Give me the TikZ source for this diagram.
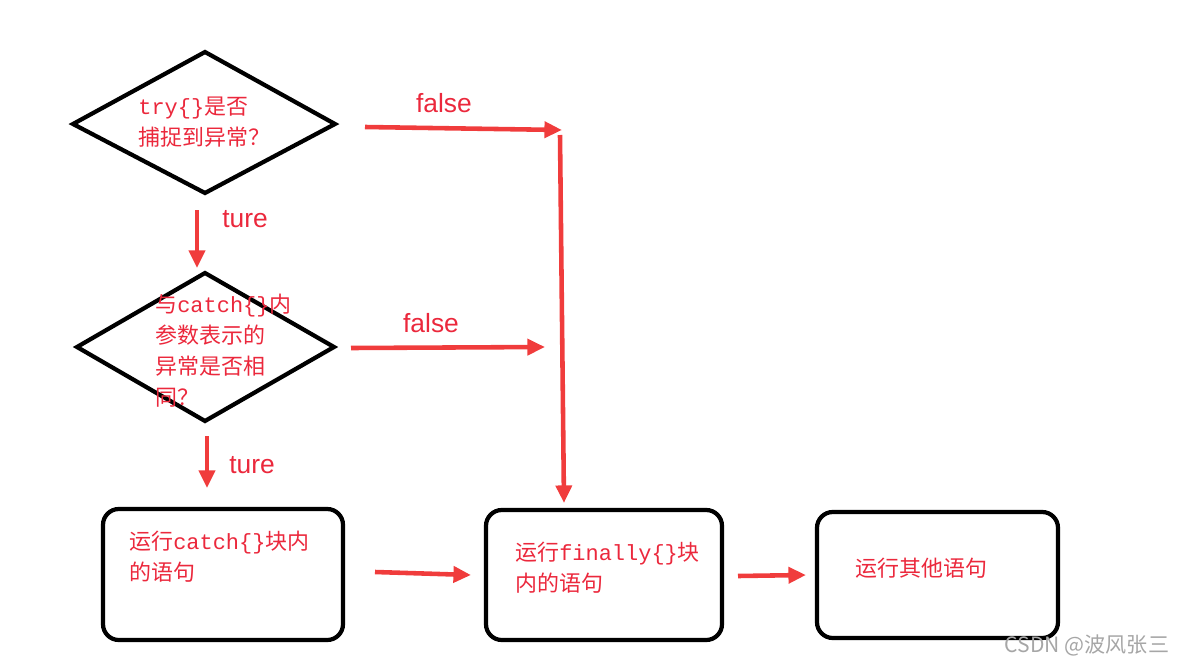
\documentclass[tikz,border=0pt]{standalone}
\usepackage{fontspec}
\newfontfamily\cjk{Noto Sans CJK SC}
\newfontfamily\lat{Liberation Mono}
\setsansfont{Liberation Sans}
\usetikzlibrary{arrows.meta}
\definecolor{arrred}{RGB}{240,60,60}
\definecolor{txtred}{RGB}{235,40,60}
\tikzset{
	flow/.style={draw=arrred, line width=2.6pt, -{Triangle[length=10pt,width=9pt]}},
	lbl/.style={text=txtred, font=\sffamily\fontsize{15}{15}\selectfont},
	txt/.style={text=txtred, font=\cjk\fontsize{12.5}{17.5}\selectfont, anchor=north west, align=left, inner sep=0pt},
	box/.style={draw, line width=2.4pt, rounded corners=9pt}
}
\begin{document}
\begin{tikzpicture}[x=0.02cm,y=-0.02cm]
	\useasboundingbox (0,0) rectangle (1177,663);
	% decisions
	\draw[line width=2.4pt] (73,124) -- (205,52) -- (335,124) -- (205,193) -- cycle;
	\draw[line width=2.4pt] (77,347) -- (205,273) -- (334,347) -- (205,421) -- cycle;
	\node[txt] (q1) at (138,97) {{\lat try\{\}}是否\\捕捉到异常？};
	\node[txt] (q2) at (155,294) {与{\lat catch\{\}}内\\参数表示的\\异常是否相\\同？};
	% blocks
	\draw[box] (103,509) rectangle (343,640);
	\draw[box] (486,510) rectangle (722,640);
	\draw[box] (817,512) rectangle (1058,638);
	\node[txt] (catch) at (129,531) {运行{\lat catch\{\}}块内\\的语句};
	\node[txt] (fin) at (515,542) {运行{\lat finally\{\}}块\\内的语句};
	\node[txt] (rest) at (855,558) {运行其他语句};
	% arrows
	\coordinate (a1) at (365,127); \coordinate (a2) at (562,130);
	\coordinate (b1) at (560,135); \coordinate (b2) at (564,503);
	\coordinate (c1) at (197,210); \coordinate (c2) at (197,268);
	\coordinate (d1) at (351,348); \coordinate (d2) at (545,347);
	\coordinate (e1) at (207,436); \coordinate (e2) at (207,488);
	\coordinate (f1) at (375,572); \coordinate (f2) at (471,575);
	\coordinate (g1) at (738,576); \coordinate (g2) at (806,575);
	\foreach \s/\t in {a1/a2,b1/b2,c1/c2,d1/d2,e1/e2,f1/f2,g1/g2}
		\draw[flow] (\s) -- (\t);
	\node[lbl] (f1l) at (444,103) {false};
	\node[lbl] (f2l) at (431,323) {false};
	\node[lbl] (t1l) at (245,219) {ture};
	\node[lbl] (t2l) at (252,465) {ture};
	\node[text=gray!70, font=\cjk\fontsize{12}{12}\selectfont] (wm) at (1087,645) {CSDN @波风张三};
\end{tikzpicture}
\end{document}
